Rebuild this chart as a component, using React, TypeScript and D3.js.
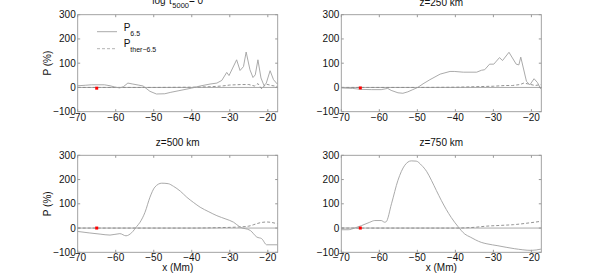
import React, { useRef, useEffect } from 'react';
import * as d3 from 'd3';

const WIDTH = 598;
const HEIGHT = 274;
const FONT = 'Liberation Sans, Arial, Helvetica, sans-serif';

type Pt = [number, number];

// values: [x (Mm), P (%)]
const p1Main: Pt[] = [
  [-70, 7], [-68, 9], [-66.4, 11], [-63, 11], [-61.5, 7], [-60.3, 2], [-59, -2], [-58, 3],
  [-56.8, 18], [-55.5, 14], [-54.1, 10], [-52.8, 6], [-51, -16], [-49.3, -27], [-47.1, -26],
  [-45.5, -20], [-43.6, -14], [-40.1, -3], [-37.8, 6], [-35.2, 14], [-33.4, 18], [-32.1, 29],
  [-30.8, 62], [-30.2, 49], [-28.2, 114], [-27.3, 70], [-26.4, 86], [-25.7, 146], [-24.7, 73],
  [-23.9, 41], [-23.3, 52], [-22.6, 114], [-21.8, 39], [-21, 8], [-20.4, 18], [-19.4, 69],
  [-18.5, 32], [-17.5, 14],
];
const p1Ther: Pt[] = [
  [-70, 0], [-60, 0], [-50, 0], [-40, 1], [-35, 3], [-32, 6], [-30, 10], [-27, 12], [-25, 12],
  [-23.5, 6], [-22.6, 16], [-21.6, -6], [-20.5, 14], [-19, 8], [-17.5, 4],
];

const p2Main: Pt[] = [
  [-70, -2], [-67, -4], [-64.8, -8], [-62, -9], [-59.5, -9], [-57.8, -4], [-56.9, -12],
  [-55.1, -22], [-53.8, -24], [-52.5, -18], [-51.2, -9], [-49.9, 0], [-48.5, 15], [-46.7, 32],
  [-44, 55], [-41.4, 66], [-40.3, 66], [-37.9, 63], [-34.4, 63], [-33.1, 71], [-32.3, 73],
  [-31, 96], [-29.9, 96], [-28.4, 123], [-27.6, 111], [-25.9, 145], [-24, 96], [-23.3, 93],
  [-22.8, 125], [-21.3, 25], [-20.4, 11], [-19.3, 36], [-18.4, 20], [-17.6, -5], [-17.4, 2],
];
const p2Ther: Pt[] = [
  [-70, 0], [-50, 0], [-40, 1], [-35, 3], [-30, 5], [-27, 8], [-25, 8], [-23, 12], [-22, 18],
  [-21, 15], [-19, 8], [-17.5, 12],
];

const p3Main: Pt[] = [
  [-70, -14], [-67, -20], [-64.1, -25], [-61.5, -29], [-58.9, -23], [-57.3, -32], [-55.8, -19],
  [-54.5, 6], [-53.6, 24], [-52.3, 65], [-51, 127], [-49.7, 169], [-47.9, 185], [-46.2, 183],
  [-44.8, 172], [-43, 152], [-41.3, 127], [-39.5, 105], [-37.8, 86], [-35.5, 67], [-33.4, 51],
  [-31, 37], [-29, 24], [-27.3, 4], [-24.6, -10], [-22.9, -37], [-21.6, -44], [-20.3, -69],
  [-17.5, -69],
];
const p3Ther: Pt[] = [
  [-70, 0], [-50, 0], [-40, 0], [-32, 2], [-28, 4], [-25, 8], [-23.7, 14], [-22, 22],
  [-20.3, 25], [-17.5, 18],
];

const p4Main: Pt[] = [
  [-70, -7], [-68.2, -7], [-66.5, 0], [-64.7, 10], [-62.5, 24], [-61.2, 31], [-59.5, 31],
  [-58.6, 24], [-58.2, 26], [-56.8, 100], [-55.1, 197], [-53.3, 259], [-51.6, 277], [-50.3, 276],
  [-48.9, 259], [-47.5, 232], [-46.3, 197], [-45, 155], [-43.7, 114], [-41.1, 44], [-39.3, 6],
  [-37.5, -25], [-36.1, -37], [-33.2, -59], [-31.7, -65], [-28.8, -73], [-24.5, -85], [-20, -92],
  [-17.5, -87],
];
const p4Ther: Pt[] = [
  [-70, 0], [-45, 0], [-40, 0], [-35, 3], [-31.7, 8], [-28, 11], [-24.7, 14], [-20.2, 22],
  [-17.4, 28],
];

const markerPts: Pt[] = [[-65, -3], [-65, -2], [-65, 0], [-65, 0]];
const titles = ['', 'z=250 km', 'z=500 km', 'z=750 km'];
const xTicks = [-70, -60, -50, -40, -30, -20];
const yTicks = [-100, 0, 100, 200, 300];
const X_DOMAIN: [number, number] = [-70, -17.4];
const Y_DOMAIN: [number, number] = [-100, 300];

const panels = [
  { main: p1Main, ther: p1Ther, smooth: false },
  { main: p2Main, ther: p2Ther, smooth: false },
  { main: p3Main, ther: p3Ther, smooth: true },
  { main: p4Main, ther: p4Ther, smooth: true },
];

const LINE = '#a0a0a0';
const AXIS = '#999';
const fmt = (v: number) => (v < 0 ? `\u2212${Math.abs(v)}` : `${v}`);

export default function App() {
  const svgRef = useRef<SVGSVGElement>(null);

  useEffect(() => {
    if (!svgRef.current) return;
    const svg = d3.select(svgRef.current);
    svg.selectAll('*').remove();

    const lefts = [77.7, 341.3];
    const tops = [14.7, 155.3];
    const w = 200;
    const h = 97;

    panels.forEach((p, i) => {
      const col = i % 2;
      const row = Math.floor(i / 2);
      const g = svg.append('g').attr('transform', `translate(${lefts[col]},${tops[row]})`);
      const x = d3.scaleLinear().domain(X_DOMAIN).range([0, w]);
      const y = d3.scaleLinear().domain(Y_DOMAIN).range([h, 0]);

      // zero line
      g.append('line')
        .attr('x1', 0).attr('x2', w)
        .attr('y1', y(0)).attr('y2', y(0))
        .attr('stroke', LINE).attr('stroke-width', 0.9);

      const line = d3.line<Pt>()
        .x((d) => x(d[0]))
        .y((d) => y(d[1]))
        .curve(p.smooth ? d3.curveMonotoneX : d3.curveLinear);

      g.append('path')
        .attr('d', line(p.ther) ?? '')
        .attr('fill', 'none')
        .attr('stroke', '#888')
        .attr('stroke-width', 0.9)
        .attr('stroke-dasharray', '3,2');

      g.append('path')
        .attr('d', line(p.main) ?? '')
        .attr('fill', 'none')
        .attr('stroke', LINE)
        .attr('stroke-width', 0.9);

      // red marker
      const m = markerPts[i];
      g.append('rect')
        .attr('x', x(m[0]) - 1.5).attr('y', y(m[1]) - 1.5)
        .attr('width', 3).attr('height', 3)
        .attr('fill', '#ff0000');

      // box
      g.append('rect')
        .attr('width', w).attr('height', h)
        .attr('fill', 'none').attr('stroke', AXIS).attr('stroke-width', 0.9);

      // inward ticks
      const tl = 2.5;
      xTicks.forEach((t) => {
        g.append('line').attr('x1', x(t)).attr('x2', x(t)).attr('y1', h).attr('y2', h - tl).attr('stroke', AXIS);
        g.append('line').attr('x1', x(t)).attr('x2', x(t)).attr('y1', 0).attr('y2', tl).attr('stroke', AXIS);
        g.append('text')
          .attr('x', x(t)).attr('y', h + 9)
          .attr('text-anchor', 'middle')
          .attr('font-size', '10px').attr('font-family', FONT).attr('fill', '#111')
          .text(fmt(t));
      });
      yTicks.forEach((t) => {
        g.append('line').attr('x1', 0).attr('x2', tl).attr('y1', y(t)).attr('y2', y(t)).attr('stroke', AXIS);
        g.append('line').attr('x1', w).attr('x2', w - tl).attr('y1', y(t)).attr('y2', y(t)).attr('stroke', AXIS);
        g.append('text')
          .attr('x', -2).attr('y', y(t)).attr('dy', '0.35em')
          .attr('text-anchor', 'end')
          .attr('font-size', '10px').attr('font-family', FONT).attr('fill', '#111')
          .text(fmt(t));
      });

      // titles
      if (i === 0) {
        const tt = g.append('text')
          .attr('x', w / 2).attr('y', -11)
          .attr('text-anchor', 'middle')
          .attr('font-size', '10px').attr('font-family', FONT).attr('fill', '#111');
        tt.append('tspan').text('log \u03c4');
        tt.append('tspan').attr('dy', 4).attr('font-size', '7.5px').text('5000');
        tt.append('tspan').attr('dy', -4).text('= 0');
      } else {
        g.append('text')
          .attr('x', w / 2).attr('y', -9)
          .attr('text-anchor', 'middle')
          .attr('font-size', '10px').attr('font-family', FONT).attr('fill', '#111')
          .text(titles[i]);
      }

      if (col === 0) {
        g.append('text')
          .attr('transform', `translate(-27,${h / 2}) rotate(-90)`)
          .attr('text-anchor', 'middle')
          .attr('font-size', '10px').attr('font-family', FONT).attr('fill', '#111')
          .text('P (%)');
      }
      if (row === 1) {
        g.append('text')
          .attr('x', w / 2).attr('y', h + 19)
          .attr('text-anchor', 'middle')
          .attr('font-size', '10px').attr('font-family', FONT).attr('fill', '#111')
          .text('x (Mm)');
      }

      // legend in first panel
      if (i === 0) {
        const lg = g.append('g');
        lg.append('line').attr('x1', 19.3).attr('x2', 39.3).attr('y1', 17).attr('y2', 17)
          .attr('stroke', LINE).attr('stroke-width', 0.9);
        lg.append('line').attr('x1', 19.3).attr('x2', 39.3).attr('y1', 34).attr('y2', 34)
          .attr('stroke', '#aaa').attr('stroke-width', 0.9).attr('stroke-dasharray', '3,2');
        const t1 = lg.append('text').attr('x', 46).attr('y', 16)
          .attr('font-size', '10px').attr('font-family', FONT).attr('fill', '#111');
        t1.append('tspan').text('P');
        t1.append('tspan').attr('dy', 5).attr('font-size', '7px').text('6.5');
        const t2 = lg.append('text').attr('x', 46).attr('y', 32)
          .attr('font-size', '10px').attr('font-family', FONT).attr('fill', '#111');
        t2.append('tspan').text('P');
        t2.append('tspan').attr('dy', 5).attr('font-size', '7px').text('ther\u22126.5');
      }
    });
  }, []);

  return (
    <svg
      ref={svgRef}
      width={WIDTH}
      height={HEIGHT}
      style={{ position: 'absolute', left: 0, top: 0, background: '#fff' }}
    />
  );
}
